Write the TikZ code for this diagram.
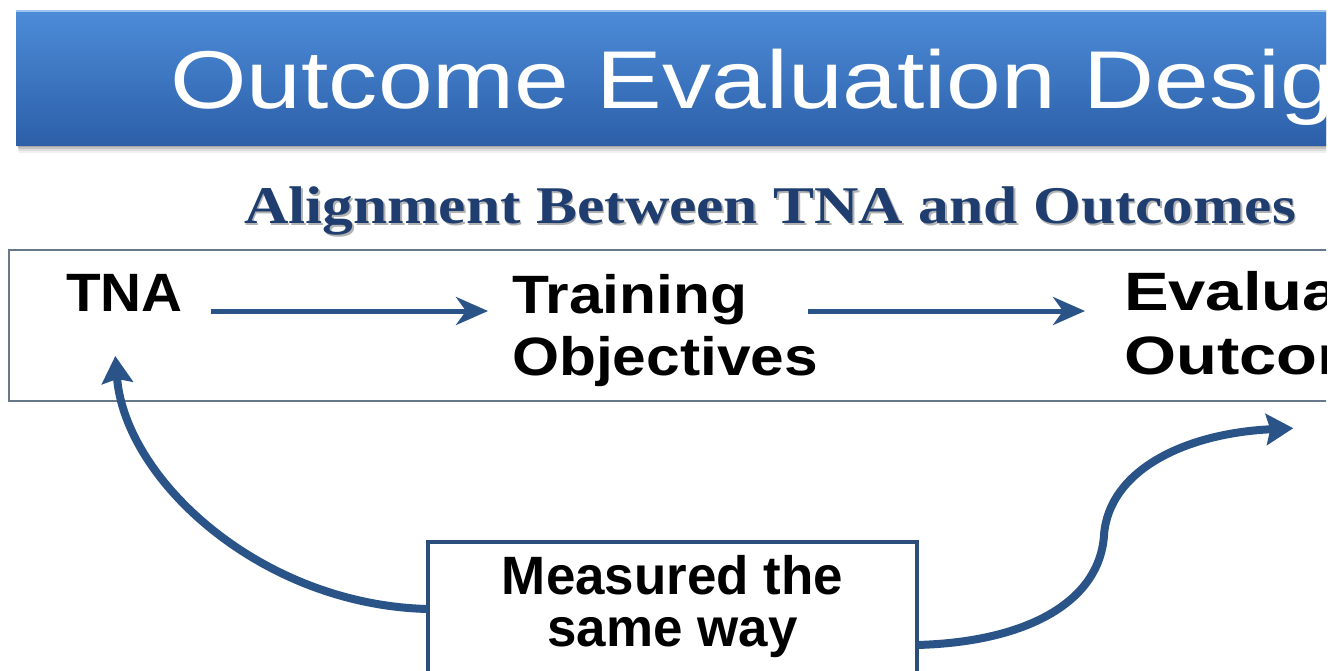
\documentclass[tikz,border=0pt]{standalone}
\usepackage{fontspec}
\setmainfont{Liberation Sans}
\newfontfamily\headserif{Liberation Serif}
\usetikzlibrary{arrows.meta,calc}
\definecolor{barTop}{HTML}{4D8CD9}
\definecolor{barBot}{HTML}{2C5FA8}
\definecolor{barHi}{HTML}{9CC6EE}
\definecolor{arrowblue}{HTML}{2A5488}
\definecolor{navy}{HTML}{1F3D6E}
\definecolor{framegray}{HTML}{66788A}
\definecolor{boxblue}{HTML}{2C4E7A}

\begin{document}
\begin{tikzpicture}[x=1pt,y=-1pt,
  lbl/.style={inner sep=0pt, outer sep=0pt, font=\fontsize{54}{62}\bfseries\selectfont},
  flow/.style={draw=arrowblue, line width=5pt, -{Stealth[length=32pt, width=28pt, inset=10pt]}},
  loop/.style={draw=arrowblue, line width=8pt, -{Stealth[length=27pt, width=31pt, inset=4pt]}}]

\fill[white] (0,0) rectangle (1336,670);
\useasboundingbox (0,0) rectangle (1336,670);

\begin{scope}
\clip (0,0) rectangle (1326,670);

% heading bar with a soft shadow
\foreach \o/\a in {8/0.06, 6/0.08, 4/0.12, 2/0.15}
  \fill[black, opacity=\a] (16+0.4*\o, 10+\o) rectangle (1340, 145+\o);
\shade[top color=barTop, bottom color=barBot] (16,10) rectangle (1340,145);
\draw[barHi, line width=1.5pt] (16,10.75) -- (1340,10.75);
\node[anchor=base west, inner sep=0pt, text=white, font=\fontsize{82}{90}\selectfont]
  (title) at (170,108.5) {\scalebox{1.2}[1]{Outcome Evaluation Design}};

% subtitle with a light drop shadow
\node[anchor=base west, inner sep=0pt, text=black!30, font=\headserif\fontsize{53}{60}\bfseries\selectfont]
  at (245.5,225) {\scalebox{1.16}[1]{Alignment Between TNA and Outcomes}};
\node[anchor=base west, inner sep=0pt, text=navy, font=\headserif\fontsize{53}{60}\bfseries\selectfont]
  (sub) at (244,223.5) {\scalebox{1.16}[1]{Alignment Between TNA and Outcomes}};

% frame around the chain
\draw[framegray, line width=1.5pt] (9,250) rectangle (1340,401);

% chain of steps
\node[lbl, anchor=base west] (tna) at (66,311) {\scalebox{1.05}[1]{TNA}};
\node[lbl, anchor=base west] (train) at (512,313)
  {\scalebox{1.12}[1]{\begin{tabular}[t]{@{}l@{}}Training\\Objectives\end{tabular}}};
\node[lbl, anchor=base west, font=\fontsize{54}{64}\bfseries\selectfont] (eval) at (1124,310)
  {\scalebox{1.24}[1]{\begin{tabular}[t]{@{}l@{}}Evaluation\\Outcomes\end{tabular}}};

\draw[flow] ($(tna.base east)+(28,0)$) -- ($(tna.base east -| train.west)+(-24,0)$);
\draw[flow] ($(train.east |- tna.base)+(-10,0)$) -- ($(eval.west |- tna.base)+(-39,0)$);

% measurement box
\node[draw=boxblue, fill=white, line width=4pt, inner sep=0pt, outer sep=0pt,
      minimum width=489pt, minimum height=134pt,
      font=\fontsize{54}{52}\bfseries\selectfont] (meas) at (672.5,609)
  {\scalebox{0.98}[1]{\begin{tabular}[t]{@{}c@{}}Measured the\\same way\end{tabular}}};

% feedback curves
\draw[loop] (meas.west) .. controls +(-167,-4) and +(10,124) .. ($(tna.south)+(-9,45)$);
\draw[loop] ($(meas.east)+(0,36)$)
  .. controls +(113,-3) and +(-4,65) .. ($(meas.east)+(187,-74)$)
  .. controls +(5,-65) and +(-108,5) .. ($(eval.south)+(0,35)$);
\end{scope}
\end{tikzpicture}
\end{document}
